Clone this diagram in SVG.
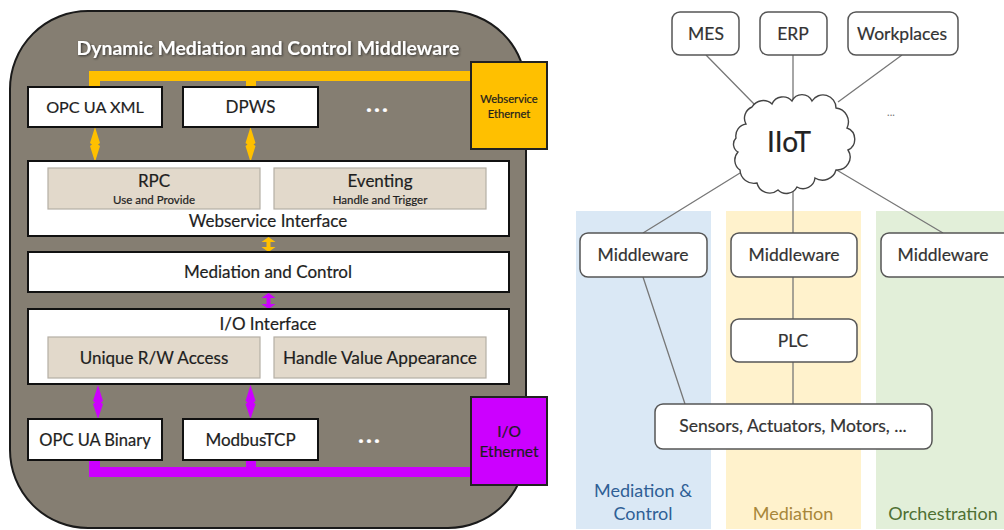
<svg xmlns="http://www.w3.org/2000/svg" width="1004" height="530" viewBox="0 0 1004 530">
<style>
text{font-family:Lato,"Noto Sans","Liberation Sans",sans-serif;text-anchor:middle;fill:#1e1e1e;stroke:#1e1e1e;stroke-width:.2}
.box{fill:#fff;stroke:#111;stroke-width:2}
.inner{fill:#e2d9cb;stroke:#b5afa5;stroke-width:1.2}
.t17{font-size:17px}
.t12{font-size:11.5px}
.dots{font-size:25px;font-weight:700;fill:#fff;stroke:#fff;letter-spacing:2px}
.rbox{fill:#fff;stroke:#555;stroke-width:1.5}
.rt{font-size:17.5px;fill:#333;stroke:#333}
.link{stroke:#777;stroke-width:1.3;fill:none}
.yel{fill:#ffc000}
.pur{fill:#cc00ff}
</style>
<defs>
<filter id="sh" x="-5%" y="-30%" width="110%" height="160%"><feDropShadow dx="1" dy="1" stdDeviation="1" flood-color="#222" flood-opacity="0.8"/></filter>
</defs>
<rect width="1004" height="530" fill="#fff"/>
<g id="middleware-frame">
<rect x="10" y="11" width="516" height="517" rx="78" ry="78" fill="#857e72" stroke="#1a1a1a" stroke-width="2"/>
<text x="268" y="55" font-size="19.4" font-weight="700" style="fill:#fff;stroke:none" filter="url(#sh)">Dynamic Mediation and Control Middleware</text>
</g>
<g id="bands">
<rect x="576" y="211" width="135" height="318" fill="#dae8f5"/>
<rect x="726" y="211" width="135" height="318" fill="#fff2cc"/>
<rect x="876" y="211" width="128" height="318" fill="#e2efd9"/>
<text x="643" y="497" font-size="18" style="fill:#2f5f95;stroke:none">Mediation &amp;</text>
<text x="643" y="520" font-size="18" style="fill:#2f5f95;stroke:none">Control</text>
<text x="793" y="520" font-size="18" style="fill:#a8873a;stroke:none">Mediation</text>
<text x="943" y="520" font-size="18" style="fill:#4f7033;stroke:none">Orchestration</text>
</g>
<g id="connectors">
<path class="yel" d="M89 71H471V81H256V86H246V81H100V86H89Z"/>
<path class="pur" d="M89 461H100V467H246V461H256V467H471V477H89Z"/>
<path class="yel" d="M95 127L100 143L98 144.500L100 146L95 162L90 146L92 144.500L90 143Z"/>
<path class="yel" d="M250.500 127L255.500 143L253.500 144.500L255.500 146L250.500 162L245.500 146L247.500 144.500L245.500 143Z"/>
<path class="yel" d="M268.500 237L275.500 242L270.500 242V247L275.500 247L268.500 252L261.500 247L266.500 247V242L261.500 242Z"/>
<path class="pur" d="M268.500 293L275.500 298L270.500 298V304L275.500 304L268.500 309L261.500 304L266.500 304V298L261.500 298Z"/>
<path class="pur" d="M98 385L103 401L101 402.500L103 404L98 419L93 404L95 402.500L93 401Z"/>
<path class="pur" d="M250.500 385L255.500 401L253.500 402.500L255.500 404L250.500 419L245.500 404L247.500 402.500L245.500 401Z"/>
<path class="link" d="M706 55L755 105M793 55V100M902 55L838 102M740 173L643 233M793 192V233M835 169L943 233M643 277L685 404M793 277V319M793 362V404"/>
</g>
<g id="opc-ua-xml"><rect class="box" x="28" y="87" width="134" height="40"/><text x="95" y="113" font-size="16.200">OPC UA XML</text></g>
<g id="dpws"><rect class="box" x="183" y="87" width="135" height="40"/><text class="t17" x="250.500" y="113">DPWS</text></g>
<g id="dots-top"><text class="dots" x="378" y="112">...</text></g>
<g id="webservice-ethernet"><rect x="471" y="62" width="76" height="87" class="yel" stroke="#222" stroke-width="2"/><text x="509" y="103" font-size="11.200">Webservice</text><text x="509" y="118" font-size="11.200">Ethernet</text></g>
<g id="webservice-interface">
<rect class="box" x="28" y="161" width="481" height="75"/>
<rect class="inner" x="48" y="168" width="212" height="41"/>
<rect class="inner" x="274" y="168" width="212" height="41"/>
<text class="t17" x="154" y="187">RPC</text><text class="t12" x="154" y="204">Use and Provide</text>
<text class="t17" x="380" y="187">Eventing</text><text class="t12" x="380" y="204">Handle and Trigger</text>
<text class="t17" x="268" y="227">Webservice Interface</text>
</g>
<g id="mediation-control"><rect class="box" x="28" y="252" width="481" height="40"/><text class="t17" x="268" y="278">Mediation and Control</text></g>
<g id="io-interface">
<rect class="box" x="28" y="309" width="481" height="75"/>
<rect class="inner" x="48" y="337" width="212" height="41"/>
<rect class="inner" x="274" y="337" width="212" height="41"/>
<text class="t17" x="268" y="330">I/O Interface</text>
<text class="t17" x="154" y="364">Unique R/W Access</text>
<text x="380" y="364" font-size="17.300">Handle Value Appearance</text>
</g>
<g id="opc-ua-binary"><rect class="box" x="28" y="419" width="134" height="41"/><text x="95" y="446" font-size="16.500">OPC UA Binary</text></g>
<g id="modbustcp"><rect class="box" x="183" y="419" width="135" height="41"/><text class="t17" x="250.500" y="446">ModbusTCP</text></g>
<g id="dots-bottom"><text class="dots" x="370" y="443">...</text></g>
<g id="io-ethernet"><rect x="471" y="397" width="76" height="88" class="pur" stroke="#222" stroke-width="2"/><text x="509" y="437" font-size="15.500">I/O</text><text x="509" y="457" font-size="15.500">Ethernet</text></g>
<g id="mes"><rect class="rbox" x="672" y="12" width="67" height="43" rx="8"/><text class="rt" x="706" y="40">MES</text></g>
<g id="erp"><rect class="rbox" x="760" y="12" width="67" height="43" rx="8"/><text class="rt" x="793" y="40">ERP</text></g>
<g id="workplaces"><rect class="rbox" x="848" y="12" width="110" height="43" rx="8"/><text class="rt" x="902" y="40">Workplaces</text></g>
<g id="iiot">
<path d="M752 107A13 13 0 0 1 772 104A12 12 0 0 1 792 101A11 11 0 0 1 812 101A13 13 0 0 1 836 108A14 14 0 0 1 847 128A12 12 0 0 1 848 150A13 13 0 0 1 836 170A14 14 0 0 1 815 178A12 12 0 0 1 797 187A12 12 0 0 1 778 190A13 13 0 0 1 757 183A14 14 0 0 1 740 170A12 12 0 0 1 738 152A9 9 0 0 1 736 138A12 12 0 0 1 746 124A12 12 0 0 1 752 107Z" fill="#fff" stroke="#444" stroke-width="1.400"/>
<text x="789" y="152" font-size="28" style="fill:#222;stroke:#222">IIoT</text>
</g>
<g id="dots-right"><text x="891" y="116" font-size="11" style="fill:#777;stroke:none">...</text></g>
<g id="middleware-1"><rect class="rbox" x="580" y="233" width="127" height="44" rx="8"/><text class="rt" x="643" y="261">Middleware</text></g>
<g id="middleware-2"><rect class="rbox" x="731" y="233" width="126" height="44" rx="8"/><text class="rt" x="794" y="261">Middleware</text></g>
<g id="middleware-3"><rect class="rbox" x="881" y="233" width="130" height="44" rx="8"/><text class="rt" x="943" y="261">Middleware</text></g>
<g id="plc"><rect class="rbox" x="731" y="319" width="126" height="43" rx="8"/><text class="rt" x="793" y="347">PLC</text></g>
<g id="sensors"><rect class="rbox" x="655" y="404" width="277" height="45" rx="8"/><text class="rt" x="793" y="432">Sensors, Actuators, Motors, ...</text></g>
</svg>
